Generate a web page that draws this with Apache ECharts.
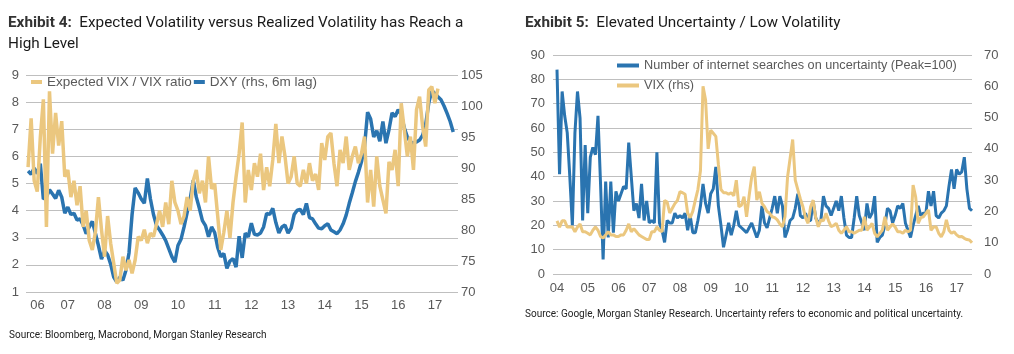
<!DOCTYPE html>
<html>
<head>
<meta charset="utf-8">
<script src="https://cdn.jsdelivr.net/npm/echarts@6/dist/echarts.min.js"></script>
<style>
html, body { margin: 0; padding: 0; background: #fff; }
#chart { width: 1014px; height: 354px; }
</style>
</head>
<body>
<div id="chart"></div>
<script>
// Exhibit 4: monthly, first point Dec 2005
let ratioStart = 2005 + 11 / 12;
let ratioVals = [
	5.6, 7.4, 5.1, 4.7, 6.7, 8.1, 3.4, 8.4, 6.1, 7.6, 6.4, 7.3,
	5.25, 5.5, 4.5, 5.1, 4.2, 4.9, 3.4, 4.0, 2.9, 2.55, 3.2, 4.5,
	3.3, 2.3, 3.8, 2.8, 2.06, 1.32, 1.44, 2.3, 1.8, 2.18, 1.69, 2.18,
	3.04, 2.9, 3.3, 2.8, 3.17, 3.04, 3.5, 4.0, 3.4, 4.3, 3.5, 5.1,
	4.3, 4.0, 3.5, 3.8, 4.5, 4.0, 5.1, 5.5, 4.64, 5.1, 4.3, 6.0,
	4.8, 5.0, 3.8, 2.55, 3.2, 4.0, 3.0, 4.3, 5.25, 6.1, 7.25, 4.3,
	5.5, 4.76, 5.75, 5.25, 6.1, 4.76, 5.6, 4.9, 5.87, 7.2, 5.75, 6.73,
	6.0, 5.0, 5.25, 6.0, 5.0, 4.9, 5.5, 5.0, 5.75, 5.1, 5.35, 4.76,
	6.49, 5.87, 6.73, 6.86, 5.75, 4.9, 6.24, 5.75, 6.73, 5.5, 6.0, 6.36,
	5.75, 6.1, 6.73, 4.3, 5.5, 4.15, 6.0, 4.9, 4.4, 3.9, 5.8, 5.5,
	6.24, 4.9, 7.96, 6.98, 6.0, 6.73, 5.5, 7.72, 8.2, 7.1, 6.36, 8.45,
	8.57, 7.96, 8.5
];
let dxyVals = [
	89.5, 89, 90, 89.1, 90.7, 85, 85.3, 86.5, 85.8, 85.1, 86.4, 85.3,
	82.7, 83.7, 82.5, 82.7, 81.6, 81.8, 80.8, 79.4, 80.5, 81.4, 79.5, 77.5,
	75.3, 76.7, 76, 74.5, 72.4, 71.6, 72.4, 71.9, 73.5, 76.3, 82.5, 86.8,
	86, 85, 84.3, 88.3, 85, 82.5, 80.7, 80, 79.2, 78.3, 77, 75.7,
	74.8, 77.5, 78.5, 80.5, 82.8, 85, 88, 85.3, 83.5, 81.5, 80.7, 78.9,
	80.5, 79.6, 77.2, 75.7, 76.2, 73.8, 75, 75.4, 74, 79, 75.5, 79.5,
	78.9, 81.1, 79.3, 79.2, 79.5, 80.5, 82.7, 82.5, 83.5, 81.2, 79.5, 80.5,
	80.8, 79.5, 80.3, 82.5, 83.2, 83.3, 82.5, 84.3, 82, 81.8, 81, 80.3,
	80.2, 80.7, 81, 80, 79.7, 79.4, 80, 81, 82.4, 84.3, 86, 87.8,
	89.3, 91, 93.5, 99, 97.9, 95, 96, 94.3, 97.5, 94, 96.2, 98.9,
	98.3, 99.4, 98.6, 96.5, 95, 94.2, 94, 94.2, 94.5, 95.3, 97, 100.5,
	102.5, 102, 101.5, 101, 100, 98.8, 97.5, 95.8
];
let yearsA = [2006.17, 2007, 2008, 2009, 2010, 2011, 2012, 2013, 2014, 2015, 2016, 2017];

// Exhibit 5: monthly, Jan 2004 to Jul 2017
let searchStart = 2004;
let searchVals = [
	84, 41, 75, 65, 58, 40, 20, 58, 75, 64, 22, 53,
	25, 48, 52, 49, 65, 37, 6, 38, 15, 38, 17, 34,
	30, 33, 36, 35, 54, 40, 26, 29, 23, 37, 22, 30,
	21, 22, 21, 50, 21, 18, 13, 22, 21, 21, 25, 23,
	24, 23, 25, 18, 24, 17, 17, 22, 28, 37, 29, 25,
	33, 35, 44, 28, 20, 11, 16, 21, 16, 20, 26, 20,
	19, 18, 17, 19, 21, 18, 15, 18, 28, 21, 19, 23,
	27, 32, 25, 32, 28, 15, 18, 22, 23, 27, 33, 24,
	23, 25, 22, 22, 30, 23, 21, 22, 32, 28, 27, 24,
	27, 30, 26, 32, 23, 16, 15, 15, 23, 32, 24, 21,
	18, 29, 23, 25, 32, 13, 15, 16, 20, 27, 26, 21,
	24, 28, 27, 29, 21, 18, 15, 20, 24, 28, 24, 25,
	25, 34, 28, 34, 24, 23, 25, 26, 28, 36, 43, 35,
	43, 41, 42, 48, 35, 27, 26
];
let vixVals = [
	17, 15, 17, 17, 15, 15, 15, 13.5, 15, 16, 13.5, 13.5,
	13, 12.5, 14, 15, 14, 12, 11.5, 12.5, 13.5, 12.5, 12.5, 12,
	12, 12.5, 12.5, 14, 16, 13.5, 14.5, 13.5, 12.5, 12, 11.5, 11,
	11, 13.5, 13.5, 15, 14, 13.5, 23.5, 23, 19.5, 21, 22.5, 23.5,
	26.3, 26, 25.5, 19.5, 18, 20, 23.6, 27, 33, 60, 55.6, 40,
	46, 45, 44, 35, 27, 26, 26, 25.5, 26, 25, 30, 21.5,
	22, 24.7, 18.3, 25, 31, 34.3, 23.6, 26.3, 22.6, 21.5, 20, 19.4,
	18.3, 18, 17.3, 16, 15.1, 18.3, 31, 37, 43, 30, 27, 24,
	21.5, 18, 16.2, 21.5, 23.6, 18, 15.1, 17.3, 17, 19.4, 17, 15.1,
	15.5, 16.2, 14, 13, 14, 15.1, 13.5, 13.5, 13, 13.5, 14, 14,
	18.3, 14, 15, 16.2, 13, 11.9, 13, 14, 18.3, 14, 15, 16,
	15, 13.5, 13.5, 13, 14, 13.5, 14, 28.4, 24.7, 16.2, 18, 18.3,
	19.4, 20.5, 14, 15, 15.1, 13, 11.9, 13.5, 17.3, 14, 13, 13.5,
	12.5, 11.9, 12, 11.4, 11, 10.9, 10
];
let yearsB = [2004, 2005, 2006, 2007, 2008, 2009, 2010, 2011, 2012, 2013, 2014, 2015, 2016, 2017];

let grey = '#595959';
let tan = '#EBC77F';
let blue = '#2A74B0';
let gridCol = '#BFBFBF';
let axisFont = 'Liberation Sans';

function monthly(start, arr) {
	return arr.map(function(v, i) { return [start + i / 12, v]; });
}
function yy(v) {
	return String(Math.floor(v)).slice(2);
}

let chart = echarts.init(document.getElementById('chart'));

let titleStyle = {
	fontFamily: 'Roboto', fontSize: 15.3, fontWeight: 'normal', color: '#1a1a1a', lineHeight: 21,
	rich: { b: { fontFamily: 'Roboto', fontSize: 15.3, fontWeight: 'bold', color: '#333', lineHeight: 21 } }
};

let option = {
	animation: false,
	backgroundColor: '#fff',
	title: [{
		left: 8, top: 13, padding: 0,
		text: '{b|Exhibit 4:}  Expected Volatility versus Realized Volatility has Reach a\nHigh Level',
		textStyle: titleStyle
	}, {
		left: 525, top: 13, padding: 0,
		text: '{b|Exhibit 5:}  Elevated Uncertainty / Low Volatility',
		textStyle: titleStyle
	}, {
		left: 9, top: 330, padding: 0,
		text: 'Source: Bloomberg, Macrobond, Morgan Stanley Research',
		textStyle: { fontFamily: 'Roboto', fontSize: 10, fontWeight: 'normal', color: '#222' }
	}, {
		left: 525, top: 309, padding: 0,
		text: 'Source: Google, Morgan Stanley Research. Uncertainty refers to economic and political uncertainty.',
		textStyle: { fontFamily: 'Roboto', fontSize: 10, fontWeight: 'normal', color: '#222' }
	}],
	legend: [{
		data: ['Expected VIX / VIX ratio', 'DXY (rhs, 6m lag)'],
		left: 31, top: 75, padding: 0,
		icon: 'rect', itemWidth: 11, itemHeight: 4, itemGap: 2,
		textStyle: { color: grey, fontSize: 13.5, fontFamily: axisFont }
	}, {
		data: ['Number of internet searches on uncertainty (Peak=100)', 'VIX (rhs)'],
		orient: 'vertical',
		left: 617, top: 59, padding: 0,
		icon: 'rect', itemWidth: 22, itemHeight: 4, itemGap: 7,
		textStyle: { color: grey, fontSize: 12.7, fontFamily: axisFont }
	}],
	grid: [
		{ left: 26, right: 556, top: 75, bottom: 62 },
		{ left: 553, right: 42, top: 55, bottom: 80 }
	],
	xAxis: [{
		gridIndex: 0, type: 'value', min: 2005.86, max: 2017.63,
		axisLine: { show: false }, axisTick: { show: false }, splitLine: { show: false },
		axisLabel: { customValues: yearsA, formatter: yy, color: grey, fontSize: 13, fontFamily: axisFont, margin: 7 }
	}, {
		gridIndex: 1, type: 'value', min: 2003.87, max: 2017.5,
		axisLine: { show: false }, axisTick: { show: false }, splitLine: { show: false },
		axisLabel: { customValues: yearsB, formatter: yy, color: grey, fontSize: 13, fontFamily: axisFont, margin: 8 }
	}],
	yAxis: [{
		gridIndex: 0, type: 'value', min: 1, max: 9, interval: 1, position: 'left',
		axisLine: { show: false }, axisTick: { show: false },
		splitLine: { lineStyle: { color: gridCol, width: 1 } },
		axisLabel: { color: grey, fontSize: 13, fontFamily: axisFont, margin: 7 }
	}, {
		gridIndex: 0, type: 'value', min: 70, max: 105, interval: 5, position: 'right',
		axisLine: { show: false }, axisTick: { show: false }, splitLine: { show: false },
		axisLabel: { color: grey, fontSize: 13, fontFamily: axisFont, margin: 3 }
	}, {
		gridIndex: 1, type: 'value', min: 0, max: 90, interval: 10, position: 'left',
		axisLine: { show: false }, axisTick: { show: false },
		splitLine: { lineStyle: { color: gridCol, width: 1 } },
		axisLabel: { color: grey, fontSize: 13, fontFamily: axisFont, margin: 8 }
	}, {
		gridIndex: 1, type: 'value', min: 0, max: 70, interval: 10, position: 'right',
		axisLine: { show: false }, axisTick: { show: false }, splitLine: { show: false },
		axisLabel: { color: grey, fontSize: 13, fontFamily: axisFont, margin: 12 }
	}],
	series: [{
		name: 'DXY (rhs, 6m lag)', type: 'line', xAxisIndex: 0, yAxisIndex: 1,
		data: monthly(ratioStart, dxyVals), showSymbol: false, symbol: 'none', z: 2,
		itemStyle: { color: blue }, lineStyle: { color: blue, width: 3.5 }
	}, {
		name: 'Expected VIX / VIX ratio', type: 'line', xAxisIndex: 0, yAxisIndex: 0,
		data: monthly(ratioStart, ratioVals), showSymbol: false, symbol: 'none', z: 3,
		itemStyle: { color: tan }, lineStyle: { color: tan, width: 3.5 }
	}, {
		name: 'Number of internet searches on uncertainty (Peak=100)', type: 'line', xAxisIndex: 1, yAxisIndex: 2,
		data: monthly(searchStart, searchVals), showSymbol: false, symbol: 'none', z: 2,
		itemStyle: { color: blue }, lineStyle: { color: blue, width: 3 }
	}, {
		name: 'VIX (rhs)', type: 'line', xAxisIndex: 1, yAxisIndex: 3,
		data: monthly(searchStart, vixVals), showSymbol: false, symbol: 'none', z: 3,
		itemStyle: { color: tan }, lineStyle: { color: tan, width: 3 }
	}]
};
chart.setOption(option);
</script>
</body>
</html>
